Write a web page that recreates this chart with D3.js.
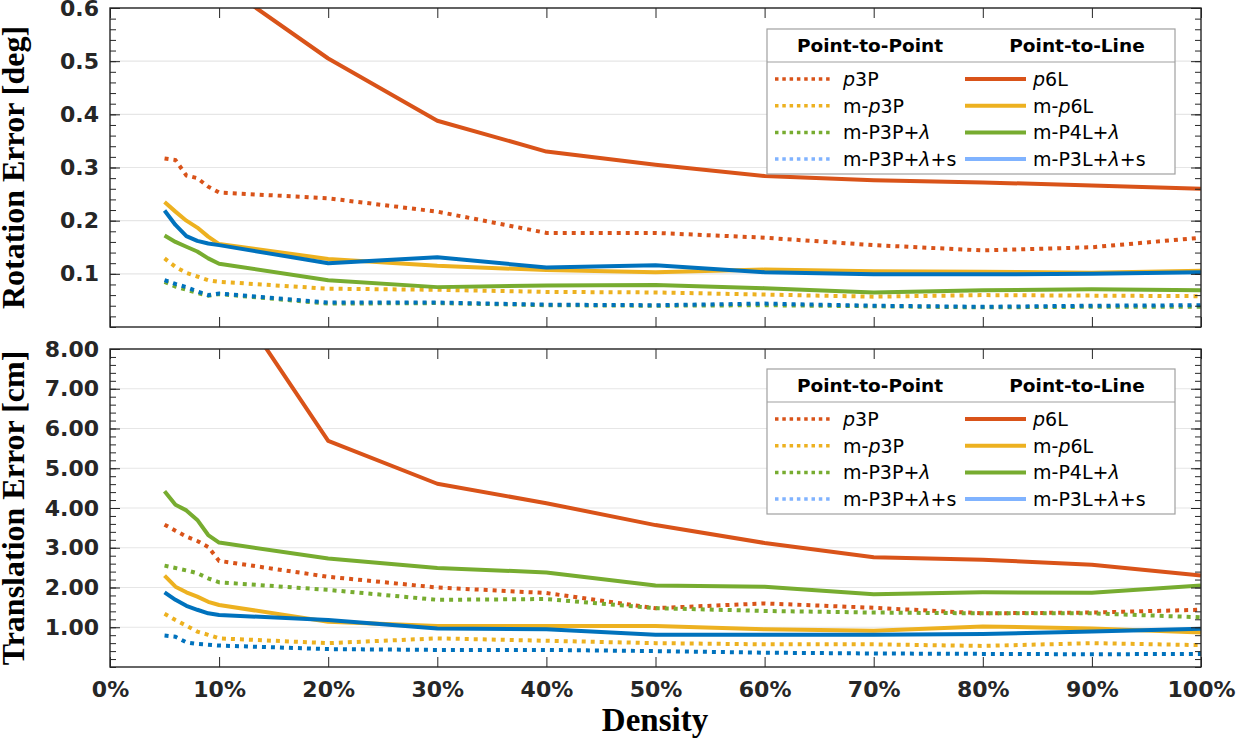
<!DOCTYPE html>
<html>
<head>
<meta charset="utf-8">
<script src="https://cdn.jsdelivr.net/npm/d3@7"></script>
<style>
  body { margin: 0; background: #fff; }
</style>
</head>
<body>
<svg id="chart" width="1237" height="742" font-family="DejaVu Sans, sans-serif"></svg>
<script>
// density values on the x axis (in %)
const density = [5, 6, 7, 8, 9, 10, 20, 30, 40, 50, 60, 70, 80, 90, 100];
const xTicks = [0, 10, 20, 30, 40, 50, 60, 70, 80, 90, 100];

// rotation error [deg]
const rotP3P    = [0.317, 0.314, 0.285, 0.280, 0.264, 0.253, 0.242, 0.217, 0.177, 0.177, 0.168, 0.154, 0.144, 0.150, 0.168];
const rotMP3P   = [0.129, 0.113, 0.102, 0.095, 0.088, 0.085, 0.072, 0.070, 0.066, 0.065, 0.061, 0.057, 0.060, 0.059, 0.058];
const rotMP3PL  = [0.085, 0.076, 0.070, 0.064, 0.059, 0.062, 0.044, 0.045, 0.041, 0.040, 0.041, 0.039, 0.037, 0.038, 0.038];
const rotMP3PLS = [0.088, 0.081, 0.075, 0.067, 0.060, 0.063, 0.046, 0.046, 0.042, 0.041, 0.044, 0.040, 0.038, 0.040, 0.041];
const rotP6L    = [0.85, 0.80, 0.76, 0.72, 0.68, 0.649, 0.505, 0.388, 0.330, 0.305, 0.284, 0.276, 0.272, 0.266, 0.260];
const rotMP6L   = [0.235, 0.217, 0.200, 0.187, 0.170, 0.156, 0.128, 0.115, 0.107, 0.103, 0.108, 0.105, 0.104, 0.102, 0.106];
const rotMP4L   = [0.172, 0.160, 0.151, 0.142, 0.129, 0.119, 0.088, 0.075, 0.078, 0.079, 0.073, 0.065, 0.069, 0.071, 0.069];
const rotMP3L   = [0.219, 0.192, 0.171, 0.162, 0.157, 0.154, 0.120, 0.131, 0.112, 0.116, 0.103, 0.099, 0.099, 0.100, 0.103];
const rotTicks  = [0.1, 0.2, 0.3, 0.4, 0.5, 0.6];

// translation error [cm]
const transP3P    = [3.58, 3.43, 3.28, 3.17, 3.02, 2.67, 2.27, 2.00, 1.86, 1.48, 1.60, 1.49, 1.35, 1.37, 1.44];
const transMP3P   = [1.34, 1.18, 1.04, 0.89, 0.81, 0.72, 0.60, 0.72, 0.66, 0.60, 0.57, 0.57, 0.53, 0.60, 0.55];
const transMP3PL  = [2.55, 2.49, 2.43, 2.36, 2.23, 2.13, 1.94, 1.69, 1.71, 1.48, 1.41, 1.37, 1.35, 1.35, 1.25];
const transMP3PLS = [0.79, 0.76, 0.62, 0.58, 0.56, 0.54, 0.45, 0.43, 0.43, 0.40, 0.36, 0.34, 0.33, 0.32, 0.33];
const transP6L    = [12.5, 12.0, 11.5, 11.0, 10.4, 9.78, 5.69, 4.61, 4.12, 3.57, 3.12, 2.76, 2.70, 2.57, 2.30];
const transMP6L   = [2.30, 2.02, 1.88, 1.77, 1.64, 1.56, 1.14, 1.03, 1.03, 1.03, 0.95, 0.91, 1.02, 0.97, 0.87];
const transMP4L   = [4.42, 4.08, 3.94, 3.70, 3.32, 3.13, 2.73, 2.49, 2.38, 2.05, 2.02, 1.83, 1.88, 1.87, 2.05];
const transMP3L   = [1.88, 1.69, 1.54, 1.44, 1.35, 1.31, 1.18, 0.97, 0.95, 0.81, 0.81, 0.81, 0.83, 0.89, 0.96];
const transTicks  = [1, 2, 3, 4, 5, 6, 7, 8];

// legend labels (p and lambda are set in italic)
const p2pLabels = ['p3P', 'm-p3P', 'm-P3P+λ', 'm-P3P+λ+s'];
const p2lLabels = ['p6L', 'm-p6L', 'm-P4L+λ', 'm-P3L+λ+s'];
const colors = ['#D95319', '#EDB120', '#77AC30', '#0072BD'];
const legendColors = ['#D95319', '#EDB120', '#77AC30', '#80B3FF'];

const serif = '"Liberation Serif", "Times New Roman", serif';
const svg = d3.select('#chart');
svg.append('rect').attr('width', 1237).attr('height', 742).attr('fill', '#fff');

const plotLeft = 110;
const plotRight = 1201;
const x = d3.scaleLinear().domain([0, 100]).range([plotLeft, plotRight]);
const axisColor = '#262626';

// draw one of the two panels
function drawPanel(opt) {
  const y = d3.scaleLinear().domain([0, opt.max]).range([opt.bottom, opt.top]);
  const g = svg.append('g');

  // clip lines to the plot box
  svg.append('clipPath').attr('id', opt.id)
    .append('rect')
    .attr('x', plotLeft).attr('y', opt.top)
    .attr('width', plotRight - plotLeft).attr('height', opt.bottom - opt.top);

  // horizontal grid
  g.selectAll('.grid').data(opt.ticks).enter().append('line')
    .attr('x1', plotLeft).attr('x2', plotRight)
    .attr('y1', d => y(d)).attr('y2', d => y(d))
    .attr('stroke', '#e6e6e6').attr('stroke-width', 1.2);

  // series lines: dotted point-to-point first, then solid point-to-line
  const line = d3.line().x((d, i) => x(density[i])).y(d => y(d));
  const lines = g.append('g').attr('clip-path', 'url(#' + opt.id + ')');
  opt.dotted.forEach((vals, i) => {
    lines.append('path').datum(vals)
      .attr('d', line).attr('fill', 'none')
      .attr('stroke', colors[i]).attr('stroke-width', 4)
      .attr('stroke-dasharray', '4 5');
  });
  opt.solid.forEach((vals, i) => {
    lines.append('path').datum(vals)
      .attr('d', line).attr('fill', 'none')
      .attr('stroke', colors[i]).attr('stroke-width', 4)
      .attr('stroke-linejoin', 'round');
  });

  // minor ticks left and right
  const minor = d3.range(0, opt.max + 1e-9, opt.minorStep);
  g.append('g').attr('transform', 'translate(' + plotLeft + ',0)')
    .call(d3.axisLeft(y).tickValues(minor).tickSize(-6).tickFormat(''));
  g.append('g').attr('transform', 'translate(' + plotRight + ',0)')
    .call(d3.axisRight(y).tickValues(minor).tickSize(-6).tickFormat(''));

  // major y ticks with labels
  g.append('g').attr('transform', 'translate(' + plotLeft + ',0)')
    .call(d3.axisLeft(y).tickValues(opt.ticks).tickSize(-10).tickPadding(11).tickFormat(d3.format(opt.fmt)));
  g.append('g').attr('transform', 'translate(' + plotRight + ',0)')
    .call(d3.axisRight(y).tickValues(opt.ticks).tickSize(-10).tickFormat(''));

  // x ticks top and bottom
  g.append('g').attr('transform', 'translate(0,' + opt.top + ')')
    .call(d3.axisTop(x).tickValues(xTicks).tickSize(-10).tickFormat(''));
  g.append('g').attr('transform', 'translate(0,' + opt.bottom + ')')
    .call(d3.axisBottom(x).tickValues(xTicks).tickSize(-10).tickPadding(14)
      .tickFormat(opt.xLabels ? d => d + '%' : ''));

  g.selectAll('.domain').remove();
  g.selectAll('.tick line').attr('stroke', axisColor).attr('stroke-width', 1);
  g.selectAll('.tick text')
    .attr('fill', axisColor).attr('font-size', 22).attr('font-weight', 'bold')
    .attr('font-family', 'DejaVu Sans, sans-serif');

  // axes box
  g.append('rect')
    .attr('x', plotLeft).attr('y', opt.top)
    .attr('width', plotRight - plotLeft).attr('height', opt.bottom - opt.top)
    .attr('fill', 'none').attr('stroke', axisColor).attr('stroke-width', 1.4);

  // y axis title
  svg.append('text')
    .attr('transform', 'translate(24,' + ((opt.top + opt.bottom) / 2) + ') rotate(-90)')
    .attr('text-anchor', 'middle')
    .attr('font-family', serif)
    .attr('font-weight', 'bold').attr('font-size', 32)
    .text(opt.title);

  drawLegend(opt.legendY);
}

// add label text with italic p and lambda
function addLabel(textSel, label) {
  label.split('').forEach(ch => {
    const t = textSel.append('tspan').text(ch);
    if(ch === 'p' || ch === 'λ') t.attr('font-style', 'italic');
  });
}

function drawLegend(top) {
  const left = 767;
  const lg = svg.append('g');
  lg.append('rect')
    .attr('x', left).attr('y', top).attr('width', 408).attr('height', 145)
    .attr('fill', '#fff').attr('stroke', '#a0a0a0').attr('stroke-width', 1.2);
  lg.append('line')
    .attr('x1', left).attr('x2', left + 408)
    .attr('y1', top + 33).attr('y2', top + 33)
    .attr('stroke', '#a0a0a0').attr('stroke-width', 1.2);
  lg.append('text').attr('x', left + 103).attr('y', top + 23)
    .attr('text-anchor', 'middle').attr('font-weight', 'bold').attr('font-size', 18.5)
    .text('Point-to-Point');
  lg.append('text').attr('x', left + 310).attr('y', top + 23)
    .attr('text-anchor', 'middle').attr('font-weight', 'bold').attr('font-size', 18.5)
    .text('Point-to-Line');

  const rowY = i => top + 50 + i * 26.7;
  p2pLabels.forEach((label, i) => {
    lg.append('line')
      .attr('x1', left + 8).attr('x2', left + 63)
      .attr('y1', rowY(i)).attr('y2', rowY(i))
      .attr('stroke', legendColors[i]).attr('stroke-width', 3.5)
      .attr('stroke-dasharray', '3.5 3.8');
    const t = lg.append('text').attr('x', left + 76).attr('y', rowY(i)).attr('dy', '0.36em')
      .attr('font-size', 19).attr('fill', '#000');
    addLabel(t, label);
  });
  p2lLabels.forEach((label, i) => {
    lg.append('line')
      .attr('x1', left + 198).attr('x2', left + 259)
      .attr('y1', rowY(i)).attr('y2', rowY(i))
      .attr('stroke', legendColors[i]).attr('stroke-width', 4);
    const t = lg.append('text').attr('x', left + 266).attr('y', rowY(i)).attr('dy', '0.36em')
      .attr('font-size', 19).attr('fill', '#000');
    addLabel(t, label);
  });
}

// top panel: rotation error
drawPanel({
  id: 'clip-rot', top: 8, bottom: 327, max: 0.6, minorStep: 0.02,
  ticks: rotTicks, fmt: '.1f', xLabels: false,
  dotted: [rotP3P, rotMP3P, rotMP3PL, rotMP3PLS],
  solid: [rotP6L, rotMP6L, rotMP4L, rotMP3L],
  title: 'Rotation Error [deg]', legendY: 29
});

// bottom panel: translation error
drawPanel({
  id: 'clip-trans', top: 349, bottom: 667, max: 8, minorStep: 0.2,
  ticks: transTicks, fmt: '.2f', xLabels: true,
  dotted: [transP3P, transMP3P, transMP3PL, transMP3PLS],
  solid: [transP6L, transMP6L, transMP4L, transMP3L],
  title: 'Translation Error [cm]', legendY: 369
});

// x axis title
svg.append('text')
  .attr('x', 655).attr('y', 731)
  .attr('text-anchor', 'middle')
  .attr('font-family', serif)
  .attr('font-weight', 'bold').attr('font-size', 33)
  .text('Density');
</script>
</body>
</html>
